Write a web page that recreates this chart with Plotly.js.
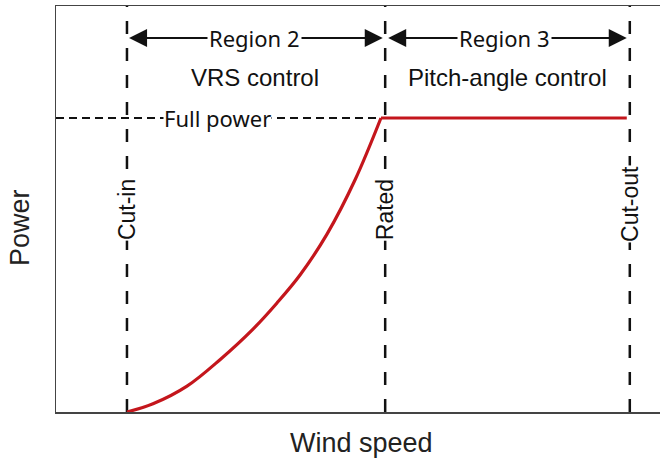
<!DOCTYPE html>
<html><head><meta charset="utf-8">
<script src="https://cdn.plot.ly/plotly-3.0.1.min.js"></script>
<style>html,body{margin:0;padding:0;background:#fff}#chart{width:660px;height:462px}</style>
</head><body><div id="chart"></div>
<script>
// Region 2 power curve (arbitrary wind-speed units, power normalised to full power = 1)
const curveWind  = [11.75, 16.06, 21.69, 27.15, 32.62, 36.59, 40.40, 44.87, 49.50, 53.8];
const curvePower = [0,     0.028, 0.088, 0.178, 0.282, 0.371, 0.466, 0.605, 0.789, 1.0];
// Region 3 flat power
const flatWind  = [53.8, 94.5];
const flatPower = [1.0, 1.0];
// Thresholds
const thresholdNames = ["Cut-in", "Rated", "Cut-out"];
const thresholdWind  = [11.75, 54.5, 95.0];
const thresholdLabelY = [0.69, 0.687, 0.707];
const fullPower = 1.0;
// Region labels
const regionNames = ["Region 2", "Region 3"];
const regionStart = [12.1, 55.0];
const regionEnd   = [54.1, 94.5];
const regionCenter = [32.8, 74.2];
const controlNames = ["VRS control", "Pitch-angle control"];
const controlCenter = [32.9, 74.7];

const arrowY = 1.272, controlY = 1.137;
const sans = "Liberation Sans, Arial, sans-serif";
const cal = "Noto Sans, Open Sans, sans-serif";

const traces = [
  {x: curveWind, y: curvePower, mode: 'lines', line: {color: '#c4161c', width: 3.2, shape: 'spline', smoothing: 1}, hoverinfo: 'skip'},
  {x: flatWind, y: flatPower, mode: 'lines', line: {color: '#c4161c', width: 3.2}, hoverinfo: 'skip'}
];

const shapes = [];
thresholdWind.forEach(w => shapes.push({type: 'line', xref: 'x', yref: 'y', x0: w, x1: w, y0: 0, y1: 1.381,
  line: {color: '#111', width: 2.5, dash: '13px,14px'}, layer: 'below'}));
shapes.push({type: 'line', xref: 'x', yref: 'y', x0: 0, x1: curveWind[curveWind.length-1], y0: fullPower, y1: fullPower,
  line: {color: '#111', width: 2, dash: '8px,5px'}, layer: 'below'});
regionStart.forEach((s, i) => shapes.push({type: 'line', xref: 'x', yref: 'y', x0: s + 2, x1: regionEnd[i] - 2, y0: arrowY, y1: arrowY,
  line: {color: '#111', width: 2}}));

const ann = [];
regionNames.forEach((n, i) => {
  ann.push({x: regionStart[i], y: arrowY, ax: regionCenter[i], ay: arrowY, axref: 'x', ayref: 'y', xref: 'x', yref: 'y',
    text: '', showarrow: true, arrowhead: 2, arrowsize: 1.8, arrowwidth: 2, arrowcolor: '#111', standoff: 0});
  ann.push({x: regionEnd[i], y: arrowY, ax: regionCenter[i], ay: arrowY, axref: 'x', ayref: 'y', xref: 'x', yref: 'y',
    text: '', showarrow: true, arrowhead: 2, arrowsize: 1.8, arrowwidth: 2, arrowcolor: '#111', standoff: 0});
  ann.push({x: regionCenter[i], y: arrowY, xref: 'x', yref: 'y', text: n, showarrow: false, bgcolor: '#fff', borderpad: 1,
    font: {family: cal, size: 22, color: '#111'}});
  ann.push({x: controlCenter[i], y: controlY, xref: 'x', yref: 'y', text: controlNames[i], showarrow: false,
    font: {family: sans, size: 24, color: '#111'}});
});
thresholdNames.forEach((n, i) => ann.push({x: thresholdWind[i], y: thresholdLabelY[i], xref: 'x', yref: 'y', text: n,
  textangle: -90, showarrow: false, bgcolor: '#fff', borderpad: 0, font: {family: sans, size: 23, color: '#111'}}));
ann.push({x: 26.8, y: fullPower, xref: 'x', yref: 'y', text: 'Full power', showarrow: false, bgcolor: '#fff', borderpad: 0,
  font: {family: cal, size: 22, color: '#111'}});
ann.push({x: -0.0596, y: 0.453, xref: 'paper', yref: 'paper', xanchor: 'center', yanchor: 'middle', text: 'Power', textangle: -90, showarrow: false,
  font: {family: sans, size: 27, color: '#222'}});
ann.push({x: 0.505, y: -0.076, xref: 'paper', yref: 'paper', xanchor: 'center', yanchor: 'middle', text: 'Wind speed', showarrow: false,
  font: {family: sans, size: 27, color: '#222'}});

const layout = {
  width: 660, height: 462,
  margin: {l: 56, r: 0, t: 6, b: 50},
  paper_bgcolor: '#fff', plot_bgcolor: '#fff',
  showlegend: false,
  xaxis: {range: [0, 100], showline: true, mirror: true, linecolor: '#444', linewidth: 1.5,
    showgrid: false, zeroline: false, showticklabels: false, ticks: '', fixedrange: true},
  yaxis: {range: [0, 1.381], showline: true, mirror: false, linecolor: '#444', linewidth: 1.5,
    showgrid: false, zeroline: false, showticklabels: false, ticks: '', fixedrange: true},
  shapes: shapes,
  annotations: ann
};
Plotly.newPlot('chart', traces, layout, {displayModeBar: false, staticPlot: true});
</script></body></html>
